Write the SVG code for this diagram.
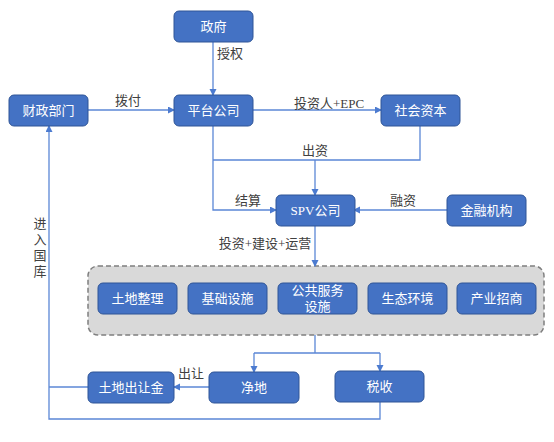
<svg xmlns="http://www.w3.org/2000/svg" width="554" height="442" viewBox="0 0 554 442">
<defs>
<marker id="arr" markerWidth="8" markerHeight="8" refX="6" refY="3.5" orient="auto" markerUnits="userSpaceOnUse">
<path d="M0,0 L7,3.5 L0,7 Z" fill="#4C7BD0"/>
</marker>
<style>
.node rect{fill:#4472C4;stroke:#2F5597;stroke-width:1}
.node text{fill:#ffffff;font-family:"Liberation Serif","Noto Sans CJK SC",serif;font-size:13px;text-anchor:middle;dominant-baseline:central}
.lbl{fill:#404040;font-family:"Liberation Serif","Noto Sans CJK SC",serif;font-size:13px;text-anchor:middle;dominant-baseline:central}
.c{fill:none;stroke:#5B87D6;stroke-width:1.3}
.a{marker-end:url(#arr)}
</style>
</defs>
<rect width="554" height="442" fill="#ffffff"/>
<g id="group-box">
<rect x="88" y="266" width="456" height="69" rx="10" fill="#D9D9D9" stroke="#7F7F7F" stroke-width="1.5" stroke-dasharray="5 3"/>
</g>
<g id="connectors">
<path class="c a" d="M213,42 V95"/>
<path class="c a" d="M88,110 H174"/>
<path class="c a" d="M253,110 H381"/>
<path class="c a" d="M213,126 V210 H276"/>
<path class="c" d="M420,126 V160 H213"/>
<path class="c a" d="M315,160 V195"/>
<path class="c a" d="M447,210 H354"/>
<path class="c a" d="M315,226 V266"/>
<path class="c" d="M315,335 V353 M254,353 H380"/>
<path class="c a" d="M254,353 V372"/>
<path class="c a" d="M380,353 V371"/>
<path class="c a" d="M209,387 H174"/>
<path class="c" d="M88,387 H49"/>
<path class="c a" d="M380,402 V419 H49 V126"/>
</g>
<g id="labels">
<text class="lbl" x="230" y="53">授权</text>
<text class="lbl" x="128" y="100">拨付</text>
<text class="lbl" x="329" y="103">投资人+EPC</text>
<text class="lbl" x="315" y="150">出资</text>
<text class="lbl" x="248" y="200">结算</text>
<text class="lbl" x="403" y="200">融资</text>
<text class="lbl" x="265" y="243">投资+建设+运营</text>
<text class="lbl" x="191" y="373">出让</text>
<text class="lbl" x="40" y="223">进</text>
<text class="lbl" x="40" y="239">入</text>
<text class="lbl" x="40" y="255">国</text>
<text class="lbl" x="40" y="271">库</text>
</g>
<g id="n-zhengfu" class="node"><rect x="174" y="11" width="79" height="31" rx="5"/><text x="213.5" y="26.5">政府</text></g>
<g id="n-caizheng" class="node"><rect x="9" y="95" width="79" height="31" rx="5"/><text x="48.5" y="110.5">财政部门</text></g>
<g id="n-pingtai" class="node"><rect x="174" y="95" width="79" height="31" rx="5"/><text x="213.5" y="110.5">平台公司</text></g>
<g id="n-shehui" class="node"><rect x="381" y="95" width="79" height="31" rx="5"/><text x="420.5" y="110.5">社会资本</text></g>
<g id="n-spv" class="node"><rect x="276" y="195" width="79" height="31" rx="5"/><text x="315.5" y="210.5">SPV公司</text></g>
<g id="n-jinrong" class="node"><rect x="447" y="195" width="79" height="31" rx="5"/><text x="486.5" y="210.5">金融机构</text></g>
<g id="n-tudizhengli" class="node"><rect x="98" y="283" width="79" height="31" rx="5"/><text x="137.5" y="298.5">土地整理</text></g>
<g id="n-jichu" class="node"><rect x="188" y="283" width="79" height="31" rx="5"/><text x="227.5" y="298.5">基础设施</text></g>
<g id="n-gonggong" class="node"><rect x="278" y="283" width="79" height="31" rx="5"/><text x="317.5" y="290.5">公共服务</text><text x="317.5" y="306.5">设施</text></g>
<g id="n-shengtai" class="node"><rect x="368" y="283" width="79" height="31" rx="5"/><text x="407.5" y="298.5">生态环境</text></g>
<g id="n-chanye" class="node"><rect x="457" y="283" width="79" height="31" rx="5"/><text x="496.5" y="298.5">产业招商</text></g>
<g id="n-churangjin" class="node"><rect x="88" y="372" width="86" height="31" rx="5"/><text x="131" y="387.5">土地出让金</text></g>
<g id="n-jingdi" class="node"><rect x="209" y="372" width="90" height="31" rx="5"/><text x="254" y="387.5">净地</text></g>
<g id="n-shuishou" class="node"><rect x="335" y="371" width="89" height="31" rx="5"/><text x="379.5" y="386.5">税收</text></g>
</svg>
